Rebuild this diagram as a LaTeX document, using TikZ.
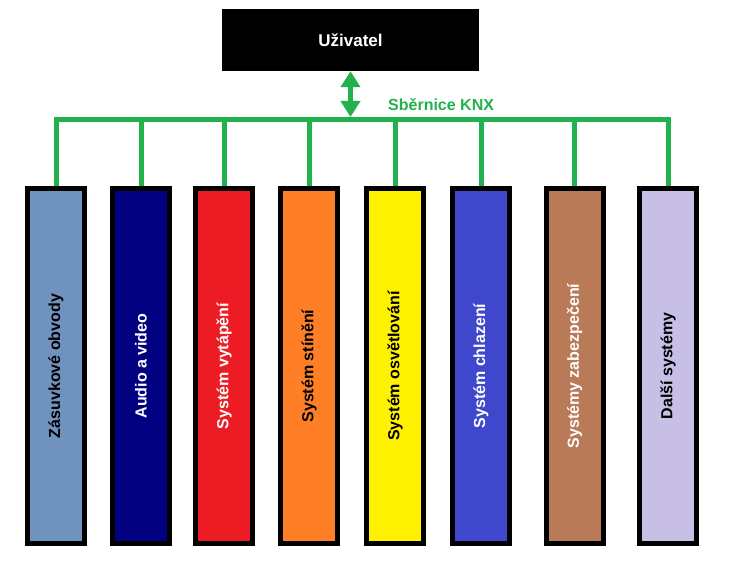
\documentclass[tikz,border=0pt]{standalone}
\usepackage{fontspec}
\setmainfont{Liberation Sans}
\usetikzlibrary{arrows.meta}
\definecolor{knxgreen}{HTML}{22B14C}
\definecolor{c1}{HTML}{7092BE}
\definecolor{c2}{HTML}{000080}
\definecolor{c3}{HTML}{ED1C24}
\definecolor{c4}{HTML}{FF7F27}
\definecolor{c5}{HTML}{FFF200}
\definecolor{c6}{HTML}{3F48CC}
\definecolor{c7}{HTML}{B97A57}
\definecolor{c8}{HTML}{C8BFE7}
\tikzset{
  sysbox/.style={draw=black, line width=5pt, minimum width=57pt, minimum height=355pt, inner sep=0pt},
  systext/.style={font=\fontsize{16}{19}\selectfont\bfseries},
  bus/.style={draw=knxgreen, line width=5pt, line join=miter},
}
\begin{document}
\begin{tikzpicture}[x=1pt,y=-1pt]
\useasboundingbox (0,0) rectangle (730,564);
\node[fill=black, minimum width=257pt, minimum height=62pt, inner sep=0pt, text=white, font=\fontsize{17}{20}\selectfont\bfseries] (user) at (350.5,40) {Uživatel};
\coordinate (busy) at (0,119.5);
\node[sysbox, fill=c1] (b1) at (56,366) {};
\node[sysbox, fill=c2] (b2) at (141,366) {};
\node[sysbox, fill=c3] (b3) at (224,366) {};
\node[sysbox, fill=c4] (b4) at (309,366) {};
\node[sysbox, fill=c5] (b5) at (395,366) {};
\node[sysbox, fill=c6] (b6) at (481,366) {};
\node[sysbox, fill=c7] (b7) at (574.5,366) {};
\node[sysbox, fill=c8] (b8) at (668,366) {};
\node[systext, rotate=90, text=black] (t1) at (b1) {Zásuvkové obvody};
\node[systext, rotate=90, text=white] (t2) at (b2) {Audio a video};
\node[systext, rotate=90, text=white] (t3) at (b3) {Systém vytápění};
\node[systext, rotate=90, text=black] (t4) at (b4) {Systém stínění};
\node[systext, rotate=90, text=black] (t5) at (b5) {Systém osvětlování};
\node[systext, rotate=90, text=white] (t6) at (b6) {Systém chlazení};
\node[systext, rotate=90, text=white] (t7) at (b7) {Systémy zabezpečení};
\node[systext, rotate=90, text=black] (t8) at (b8) {Další systémy};
\path[bus] (b1.north) -- (b1.north |- busy) -- (b8.north |- busy) -- (b8.north);
\foreach \i in {2,...,7}{
  \path[bus] (b\i.north) -- (b\i.north |- busy);
}
\coordinate (bustop) at (350.5,117);
\draw[knxgreen, line width=5pt, {Triangle[width=19pt,length=16pt]}-{Triangle[width=19pt,length=16pt]}] (user.south) -- (bustop);
\node[systext, text=knxgreen, anchor=base west, inner sep=0pt] (knx) at (388,111) {Sběrnice KNX};
\end{tikzpicture}
\end{document}
